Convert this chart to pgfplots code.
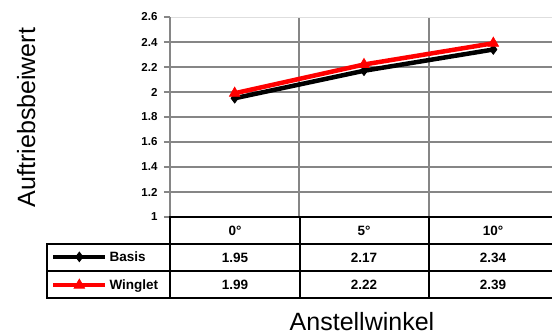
\documentclass[border=0pt]{standalone}
\usepackage{pgfplots}
\pgfplotsset{compat=1.18}
\usepackage{fontspec}
\setmainfont{Liberation Sans}
\definecolor{gridgray}{RGB}{134,134,134}
\definecolor{toplight}{RGB}{222,222,222}
\begin{document}
\begin{tikzpicture}[x=1pt,y=1pt]
\clip (0,0) rectangle (552,-335);
\begin{axis}[
  at={(170pt,-217pt)}, anchor=south west,
  scale only axis, width=388pt, height=200pt,
  xmin=-0.5, xmax=2.5, ymin=1, ymax=2.6,
  axis line style={draw=none},
  xtick={-0.5,0.5,1.5,2.5}, xticklabels={}, xmajorgrids,
  xtick style={draw=none},
  ytick={1.2,1.4,1.6,1.8,2,2.2,2.4}, ymajorgrids,
  extra y ticks={1,2.6}, extra y tick style={grid=none},
  major grid style={gridgray, line width=1.8pt},
  tick align=outside, major tick length=6pt,
  ytick style={gridgray, line width=1.5pt},
  /pgf/number format/assume math mode=true,
  yticklabel style={font=\bfseries\fontsize{11.5}{12}\selectfont, xshift=-3pt},
  legend style={at={(axis description cs:-0.307,-0.27)}, anchor=west, draw=none, fill=none,
    inner sep=0pt, row sep=13pt, font=\bfseries\fontsize{13.5}{14}\selectfont,
    cells={anchor=west}},
  legend image code/.code={\draw[mark repeat=2, mark phase=2, #1] plot coordinates {(0pt,0pt)(26pt,0pt)(52pt,0pt)};},
]
\draw[toplight, line width=1pt] (axis cs:-0.5,2.6) -- (axis cs:2.5,2.6);
\draw[gridgray, line width=1.8pt] (axis cs:-0.5,1) -- (axis cs:-0.5,2.6);
\addplot[black, line width=4.5pt, mark=diamond*, mark size=4.8pt, mark options={line width=0.8pt}]
  coordinates {(0,1.95) (1,2.17) (2,2.34)};
\addlegendentry{Basis}
\addplot[red, line width=4.5pt, mark=triangle*, mark size=6pt, mark options={line width=0.8pt}]
  coordinates {(0,1.99) (1,2.22) (2,2.39)};
\addlegendentry{Winglet}
\end{axis}
% data table grid
\begin{scope}[line width=2.2pt, line cap=rect]
\draw (170,-217) -- (560,-217);
\draw (47,-244) -- (560,-244);
\draw (47,-271) -- (560,-271);
\draw (47,-298) -- (560,-298);
\draw (47,-244) -- (47,-298);
\draw (170,-217) -- (170,-298);
\draw (300,-217) -- (300,-298);
\draw (429,-217) -- (429,-298);
\end{scope}
\begin{scope}[font=\bfseries\fontsize{13.5}{14}\selectfont]
\node at (235,-230.5) {0°};
\node at (364,-230.5) {5°};
\node at (493,-230.5) {10°};
\node at (235,-257.5) {1.95};
\node at (364,-257.5) {2.17};
\node at (493,-257.5) {2.34};
\node at (235,-284.5) {1.99};
\node at (364,-284.5) {2.22};
\node at (493,-284.5) {2.39};
\end{scope}
\node[rotate=90, anchor=base, font=\fontsize{25}{25}\selectfont] at (35,-117.5) {Auftriebsbeiwert};
\node[anchor=base, font=\fontsize{25}{25}\selectfont] at (362,-330) {Anstellwinkel};
\end{tikzpicture}
\end{document}
